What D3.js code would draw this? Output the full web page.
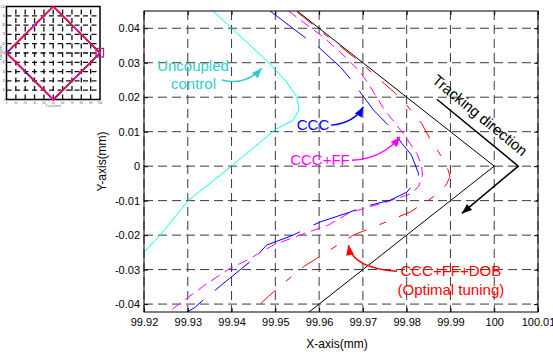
<!DOCTYPE html>
<html>
<head>
<meta charset="utf-8">
<script src="https://cdn.jsdelivr.net/npm/d3@7"></script>
<style>
    body { margin: 0; background: #fff; }
    svg { display: block; font-family: "Liberation Sans", Arial, sans-serif; }
</style>
</head>
<body>
<svg id="chart" width="553" height="354"></svg>
<script>
// tick values of the main axes
const xTicks = [99.92, 99.93, 99.94, 99.95, 99.96, 99.97, 99.98, 99.99, 100, 100.01];
const yTicks = [-0.04, -0.03, -0.02, -0.01, 0, 0.01, 0.02, 0.03, 0.04];

// commanded corner (black) and measured contours, [x, y] in mm
const reference = [[99.955, 0.045], [100, 0], [99.955, -0.045]];
const uncoupled = [[99.9358, 0.045], [99.9400, 0.0400], [99.9442, 0.0351], [99.9483, 0.0302], [99.9522, 0.0250],
    [99.9549, 0.0202], [99.9554, 0.0163], [99.9540, 0.0133], [99.9499, 0.0105], [99.9449, 0.0052],
    [99.9400, 0.0000], [99.9301, -0.0100], [99.9237, -0.0200], [99.9200, -0.0249]];
const ccc = [[99.9488, 0.0450], [99.9569, 0.0372], [99.9598, 0.0346], [99.9648, 0.0288], [99.9674, 0.0250],
    [99.9693, 0.0216], [99.9724, 0.0163], [99.9762, 0.0114], [99.9789, 0.0066], [99.9811, 0.0032],
    [99.9827, -0.0021], [99.9826, -0.0035], [99.9801, -0.0075], [99.9762, -0.0099], [99.9701, -0.0118],
    [99.9671, -0.0133], [99.9602, -0.0162], [99.9575, -0.0178], [99.9541, -0.0200], [99.9480, -0.0229],
    [99.9454, -0.0265], [99.9423, -0.0297], [99.9343, -0.0380], [99.9316, -0.0410], [99.9296, -0.0425]];
const cccFF = [[99.9530, 0.0450], [99.9613, 0.0371], [99.9663, 0.0313], [99.9693, 0.0274], [99.9712, 0.0240],
    [99.9747, 0.0168], [99.9762, 0.0143], [99.9792, 0.0095], [99.9823, 0.0037], [99.9834, 0.0003],
    [99.9836, -0.0026], [99.9827, -0.0060], [99.9808, -0.0081], [99.9777, -0.0094], [99.9754, -0.0104],
    [99.9671, -0.0134], [99.9621, -0.0171], [99.9556, -0.0200], [99.9495, -0.0229], [99.9435, -0.0273],
    [99.9396, -0.0297], [99.9343, -0.0341], [99.9286, -0.0394], [99.9255, -0.0425]];
const cccFFDOB = [[99.9549, 0.0448], [99.9610, 0.0385], [99.9659, 0.0337], [99.9697, 0.0298], [99.9739, 0.0250],
    [99.9766, 0.0221], [99.9800, 0.0177], [99.9834, 0.0124], [99.9853, 0.0080], [99.9880, 0.0027],
    [99.9895, -0.0012], [99.9899, -0.0031], [99.9890, -0.0055], [99.9861, -0.0089], [99.9808, -0.0133],
    [99.9762, -0.0157], [99.9716, -0.0181], [99.9678, -0.0200], [99.9636, -0.0234], [99.9594, -0.0268],
    [99.9564, -0.0292], [99.9522, -0.0336], [99.9484, -0.0378], [99.9446, -0.0423], [99.9440, -0.0430]];

// small overview plot in the corner
const insetTicks = [0, 10, 20, 30, 40, 50, 60, 70, 80, 90, 100];
const insetPath = [[50, 100], [100, 50], [50, 0], [0, 50], [50, 100]];

class TrackingPlot {
    margin = {
        top: 11, right: 15, bottom: 42, left: 144
    }

    constructor(svg, width = 394, height = 301) {
        this.svg = svg;
        this.width = width;
        this.height = height;
    }

    initialize() {
        this.svg = d3.select(this.svg);
        this.root = this.svg.append("g")
            .attr("transform", `translate(${this.margin.left}, ${this.margin.top})`);

        this.xScale = d3.scaleLinear().domain([99.92, 100.01]).range([0, this.width]);
        this.yScale = d3.scaleLinear().domain([-0.0423, 0.045]).range([this.height, 0]);

        this.root.append("clipPath").attr("id", "plot-clip")
            .append("rect").attr("width", this.width).attr("height", this.height);

        this.grid = this.root.append("g");
        this.container = this.root.append("g").attr("clip-path", "url(#plot-clip)");
        this.notes = this.root.append("g");
        this.axes = this.root.append("g");

        this.svg.append("text")
            .attr("text-anchor", "middle")
            .attr("x", this.margin.left + this.width / 2 - 4)
            .attr("y", 348)
            .attr("font-size", 12)
            .text("X-axis(mm)");

        this.svg.append("text")
            .attr("text-anchor", "middle")
            .attr("transform", "rotate(-90)")
            .attr("x", -(this.margin.top + this.height / 2))
            .attr("y", 106)
            .attr("font-size", 12)
            .text("Y-axis(mm)");
    }

    drawAxes() {
        const x = this.xScale, y = this.yScale;
        const fmt = d => String(+d.toFixed(2));

        this.grid.selectAll(".vgrid")
            .data(xTicks)
            .join("line")
            .attr("class", "vgrid")
            .attr("x1", d => x(d)).attr("x2", d => x(d))
            .attr("y1", 0).attr("y2", this.height);
        this.grid.selectAll(".hgrid")
            .data(yTicks)
            .join("line")
            .attr("class", "hgrid")
            .attr("x1", 0).attr("x2", this.width)
            .attr("y1", d => y(d)).attr("y2", d => y(d));
        this.grid.selectAll("line")
            .attr("stroke", "#3a3a3a")
            .attr("stroke-width", 1)
            .attr("stroke-dasharray", "9,5");

        const bottom = this.axes.append("g")
            .attr("transform", `translate(0, ${this.height})`)
            .call(d3.axisBottom(x).tickValues(xTicks).tickSize(-4).tickPadding(6).tickFormat(fmt));
        const left = this.axes.append("g")
            .call(d3.axisLeft(y).tickValues(yTicks).tickSize(-4).tickPadding(4).tickFormat(fmt));
        const top = this.axes.append("g")
            .call(d3.axisTop(x).tickValues(xTicks).tickSize(-4).tickFormat(""));
        const right = this.axes.append("g")
            .attr("transform", `translate(${this.width}, 0)`)
            .call(d3.axisRight(y).tickValues(yTicks).tickSize(-4).tickFormat(""));

        [bottom, left, top, right].forEach(g => {
            g.select(".domain").remove();
            g.selectAll("text").attr("font-size", 11).attr("font-family", "Liberation Sans, Arial, sans-serif")
                .attr("fill", "#000");
        });

        this.axes.append("rect")
            .attr("width", this.width)
            .attr("height", this.height)
            .attr("fill", "none")
            .attr("stroke", "#000")
            .attr("stroke-width", 1);
    }

    update(series) {
        const line = d3.line()
            .x(d => this.xScale(d[0]))
            .y(d => this.yScale(d[1]))
            .curve(d3.curveCatmullRom.alpha(0.5));

        this.container.selectAll("path")
            .data(series)
            .join("path")
            .attr("d", d => d.curved ? line(d.values) : line.curve(d3.curveLinear)(d.values))
            .attr("fill", "none")
            .attr("stroke", d => d.color)
            .attr("stroke-width", 1)
            .attr("stroke-dasharray", d => d.dash);
    }

    arrowHead(from, tip, color) {
        const a = Math.atan2(tip[1] - from[1], tip[0] - from[0]);
        const len = 10, half = 4;
        const bx = tip[0] - len * Math.cos(a), by = tip[1] - len * Math.sin(a);
        this.notes.append("path")
            .attr("d", `M${tip[0]},${tip[1]}L${bx + half * Math.sin(a)},${by - half * Math.cos(a)}` +
                `L${bx - half * Math.sin(a)},${by + half * Math.cos(a)}Z`)
            .attr("fill", color);
    }

    curvedArrow(start, ctrl, tip, color) {
        const p = d => [this.xScale(d[0]), this.yScale(d[1])];
        const s = p(start), c = p(ctrl), t = p(tip);
        this.notes.append("path")
            .attr("d", `M${s[0]},${s[1]}Q${c[0]},${c[1]} ${t[0]},${t[1]}`)
            .attr("fill", "none")
            .attr("stroke", color)
            .attr("stroke-width", 1.5);
        this.arrowHead(c, t, color);
    }

    label(text, at, color, anchor = "middle") {
        this.notes.append("text")
            .attr("x", this.xScale(at[0]))
            .attr("y", this.yScale(at[1]))
            .attr("text-anchor", anchor)
            .attr("font-size", 15)
            .attr("fill", color)
            .text(text);
    }

    annotate() {
        const x = this.xScale, y = this.yScale;

        this.label("Uncoupled", [99.9312, 0.0277], "#33cccc");
        this.label("control", [99.9313, 0.0224], "#33cccc");
        this.curvedArrow([99.9378, 0.0250], [99.9431, 0.0232], [99.9469, 0.0284], "#33cccc");

        this.label("CCC", [99.9549, 0.0106], "#0000ff", "start");
        this.curvedArrow([99.9627, 0.0119], [99.9680, 0.0125], [99.9701, 0.0172], "#0000ff");

        this.label("CCC+FF", [99.9534, 0.0003], "#ff00ff", "start");
        this.curvedArrow([99.9675, 0.0017], [99.9745, 0.0022], [99.9785, 0.0085], "#ff00ff");

        this.label("CCC+FF+DOB", [99.9901, -0.0318], "#ff0000");
        this.label("(Optimal tuning)", [99.9901, -0.0373], "#ff0000");
        this.curvedArrow([99.9778, -0.0305], [99.9676, -0.0296], [99.9667, -0.0229], "#ff0000");

        // tracking direction marker
        const track = [[99.9869, 0.0194], [100.0055, 0], [99.9926, -0.0137]];
        const pts = track.map(d => [x(d[0]), y(d[1])]);
        this.notes.append("path")
            .attr("d", d3.line()(pts))
            .attr("fill", "none")
            .attr("stroke", "#000")
            .attr("stroke-width", 1.5);
        this.arrowHead(pts[1], pts[2], "#000");
        this.notes.append("text")
            .attr("transform", `translate(${x(99.99597)}, ${y(0.01361)}) rotate(39.5)`)
            .attr("text-anchor", "middle")
            .attr("font-size", 15)
            .text("Tracking direction");
    }
}

function drawInset(svg) {
    const g = d3.select(svg).append("g");
    const ix = d3.scaleLinear().domain([0, 100]).range([6.5, 100]);
    const iy = d3.scaleLinear().domain([0, 100]).range([99.5, 6.5]);

    g.selectAll(".ivg")
        .data(insetTicks.slice(1, -1))
        .join("line")
        .attr("x1", d => ix(d)).attr("x2", d => ix(d))
        .attr("y1", iy(0)).attr("y2", iy(100))
        .attr("stroke", "#111").attr("stroke-width", 1.3).attr("stroke-dasharray", "5,3.5");
    g.selectAll(".ihg")
        .data(insetTicks.slice(1, -1))
        .join("line")
        .attr("x1", ix(0)).attr("x2", ix(100))
        .attr("y1", d => iy(d)).attr("y2", d => iy(d))
        .attr("stroke", "#111").attr("stroke-width", 1.3).attr("stroke-dasharray", "5,3.5");

    g.append("rect")
        .attr("x", ix(0)).attr("y", iy(100))
        .attr("width", ix(100) - ix(0)).attr("height", iy(0) - iy(100))
        .attr("fill", "none").attr("stroke", "#000").attr("stroke-width", 1.5);

    const line = d3.line().x(d => ix(d[0])).y(d => iy(d[1]));
    g.append("path").attr("d", line(insetPath))
        .attr("fill", "none").attr("stroke", "#0000ff").attr("stroke-width", 1.6);
    g.append("path").attr("d", line(insetPath))
        .attr("fill", "none").attr("stroke", "#ff00ff").attr("stroke-width", 1.6)
        .attr("stroke-dasharray", "20,9");
    g.append("path").attr("d", line(insetPath))
        .attr("fill", "none").attr("stroke", "#e8103a").attr("stroke-width", 1.6)
        .attr("stroke-dasharray", "30,4");

    g.append("rect")
        .attr("x", ix(100) - 4).attr("y", iy(50) - 4.5)
        .attr("width", 7.5).attr("height", 8.5)
        .attr("fill", "none").attr("stroke", "#a0306a").attr("stroke-width", 1.3);

    g.selectAll(".ixl")
        .data(insetTicks)
        .join("text")
        .attr("x", d => ix(d)).attr("y", 103.5)
        .attr("text-anchor", "middle").attr("font-size", 3).attr("fill", "#666")
        .text(d => d);
    g.selectAll(".iyl")
        .data(insetTicks)
        .join("text")
        .attr("x", 5.5).attr("y", d => iy(d) + 1)
        .attr("text-anchor", "end").attr("font-size", 3).attr("fill", "#666")
        .text(d => d);
    g.append("text")
        .attr("x", ix(50)).attr("y", 107)
        .attr("text-anchor", "middle").attr("font-size", 3).attr("fill", "#666")
        .text("X-axis(mm)");
    g.append("text")
        .attr("transform", "rotate(-90)")
        .attr("x", -iy(50)).attr("y", 2)
        .attr("text-anchor", "middle").attr("font-size", 3).attr("fill", "#666")
        .text("Y-axis(mm)");
}

const series = [
    { name: "Reference", values: reference, color: "#000000", dash: null, curved: false },
    { name: "Uncoupled control", values: uncoupled, color: "#00ffff", dash: null, curved: true },
    { name: "CCC+FF+DOB", values: cccFFDOB, color: "#ff0000", dash: "20,14,7,14", curved: true },
    { name: "CCC+FF", values: cccFF, color: "#ff00ff", dash: "10,6", curved: true },
    { name: "CCC", values: ccc, color: "#0000ff", dash: "45,15", curved: true }
];

const plot = new TrackingPlot(document.getElementById("chart"));
plot.initialize();
plot.drawAxes();
plot.update(series);
plot.annotate();
drawInset(document.getElementById("chart"));
</script>
</body>
</html>
